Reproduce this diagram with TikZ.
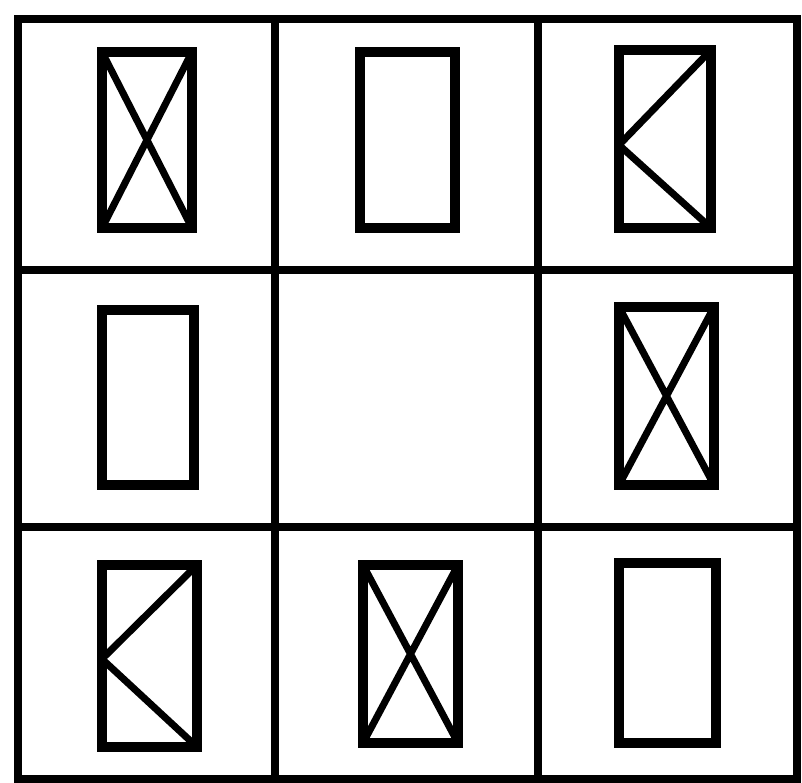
\documentclass[tikz,border=0pt]{standalone}
\begin{document}
\begin{tikzpicture}[x=1pt,y=-1pt,
  gridline/.style={line width=8.5pt},
  box/.style={draw, line width=10.5pt, inner sep=0pt, outer sep=0pt},
  diag/.style={line width=7pt}]
\useasboundingbox[fill=white] (0,0) rectangle (802,783);
% grid
\draw[gridline] (18,19) rectangle (797,779);
\draw[gridline] (275,19) -- (275,779);
\draw[gridline] (538,19) -- (538,779);
\draw[gridline] (18,270) -- (797,270);
\draw[gridline] (18,527) -- (797,527);
% row 1
\node[box, minimum width=90pt, minimum height=176pt] (r11) at (147,140) {};
\node[box, minimum width=95pt, minimum height=176pt] (r12) at (407.5,140) {};
\node[box, minimum width=92pt, minimum height=178pt] (r13) at (665,139) {};
% row 2
\node[box, minimum width=92pt, minimum height=175pt] (r21) at (148,397.5) {};
\node[box, minimum width=95pt, minimum height=178pt] (r23) at (666.5,396) {};
% row 3
\node[box, minimum width=95pt, minimum height=182pt] (r31) at (149.5,656) {};
\node[box, minimum width=95pt, minimum height=178pt] (r32) at (410.5,654) {};
\node[box, minimum width=97pt, minimum height=180pt] (r33) at (667.5,653) {};
% crosses
\draw[diag] (r11.north west) -- (r11.south east) (r11.north east) -- (r11.south west);
\draw[diag] (r23.north west) -- (r23.south east) (r23.north east) -- (r23.south west);
\draw[diag] (r32.north west) -- (r32.south east) (r32.north east) -- (r32.south west);
% K shapes
\coordinate (k13) at ([yshift=-6pt]r13.west);
\draw[diag, line join=round] (r13.north east) -- (k13) -- (r13.south east);
\coordinate (k31) at ([yshift=-3pt]r31.west);
\draw[diag, line join=round] (r31.north east) -- (k31) -- (r31.south east);
\end{tikzpicture}
\end{document}
